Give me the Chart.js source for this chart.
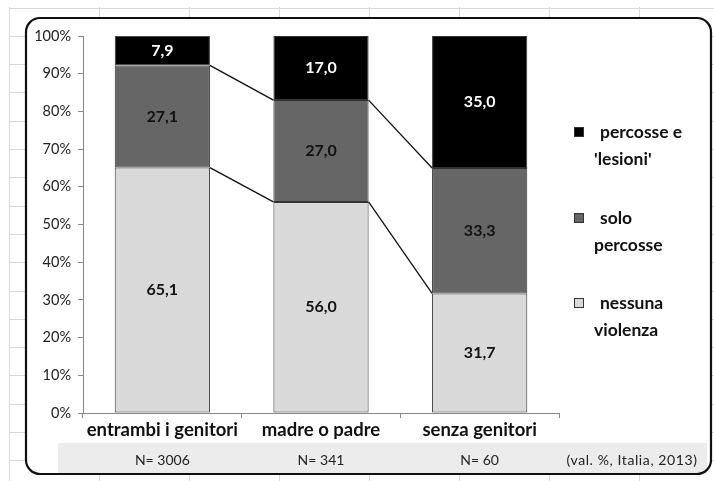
<!DOCTYPE html>
<html>
<head>
<meta charset="utf-8">
<script src="https://cdn.jsdelivr.net/npm/chart.js@4.4.1/dist/chart.umd.min.js"></script>
<style>
  html, body { margin: 0; padding: 0; background: #fff; }
  canvas { display: block; }
</style>
</head>
<body>
<canvas id="chart" width="714" height="481"></canvas>
<script>
// dati
const categories = ['entrambi i genitori', 'madre o padre', 'senza genitori'];
const nessunaViolenza = [65.1, 56.0, 31.7];
const soloPercosse = [27.1, 27.0, 33.3];
const percosseLesioni = [7.9, 17.0, 35.0];
const nLabels = ['N= 3006', 'N= 341', 'N= 60'];
const noteText = '(val. %, Italia, 2013)';
const legendNames = [
    ['nessuna', 'violenza'],
    ['solo', 'percosse'],
    ['percosse e', "'lesioni'"]
];
const yTicks = [0, 10, 20, 30, 40, 50, 60, 70, 80, 90, 100];

const FONT = 'Lato, "Open Sans", sans-serif';

function fmt(v) {
    return v.toFixed(1).replace('.', ',');
}

// sfondo: griglia del foglio, cornice arrotondata, fascia grigia con N
const backgroundPlugin = {
    id: 'background',
    beforeDraw(chart) {
        const ctx = chart.ctx;
        ctx.save();
        ctx.fillStyle = '#fff';
        ctx.fillRect(0, 0, chart.width, chart.height);
        ctx.strokeStyle = '#d9d9d9';
        ctx.lineWidth = 1;
        for (let x = 9.5; x < chart.width; x += 90) {
            ctx.beginPath(); ctx.moveTo(x, 7); ctx.lineTo(x, chart.height); ctx.stroke();
        }
        for (let y = 7.5; y < chart.height; y += 28.3) {
            ctx.beginPath(); ctx.moveTo(9, Math.round(y) + 0.5); ctx.lineTo(chart.width, Math.round(y) + 0.5); ctx.stroke();
        }
        // cornice
        ctx.beginPath();
        ctx.roundRect(26, 18, 685, 456, 14);
        ctx.fillStyle = '#fff';
        ctx.fill();
        // fascia grigia
        ctx.fillStyle = '#ececec';
        ctx.fillRect(58, 443, 649, 31);
        ctx.lineWidth = 2.2;
        ctx.strokeStyle = '#111';
        ctx.stroke();
        ctx.restore();
    },
    afterDraw(chart) {
        const ctx = chart.ctx;
        const xs = chart.scales.x;
        ctx.save();
        ctx.fillStyle = '#222';
        ctx.font = '14px ' + FONT;
        ctx.textAlign = 'center';
        ctx.textBaseline = 'middle';
        nLabels.forEach((t, i) => {
            ctx.fillText(t, xs.getPixelForValue(i), 460);
        });
        ctx.letterSpacing = '0.6px';
        ctx.fillText(noteText, 632, 460);
        ctx.letterSpacing = '0px';

        // legenda
        const ds = chart.data.datasets;
        const rows = [132, 218, 303];
        ctx.textAlign = 'left';
        ctx.font = 'bold 17.5px ' + FONT;
        for (let k = 0; k < 3; k++) {
            const d = ds[2 - k];
            const y = rows[k];
            ctx.fillStyle = d.backgroundColor;
            ctx.fillRect(574, y - 5, 10, 10);
            ctx.strokeStyle = '#333';
            ctx.lineWidth = 1;
            ctx.strokeRect(574.5, y - 4.5, 9, 9);
            ctx.fillStyle = '#111';
            const lines = legendNames[2 - k];
            ctx.fillText(lines[0], 600, y);
            ctx.fillText(lines[1], 594, y + 27);
        }
        ctx.restore();
    }
};

// linee di serie tra le barre + etichette dei valori
const seriesLinesPlugin = {
    id: 'seriesLines',
    afterDatasetsDraw(chart) {
        const ctx = chart.ctx;
        ctx.save();
        ctx.strokeStyle = '#111';
        ctx.lineWidth = 1.3;
        [0, 1].forEach(di => {
            const els = chart.getDatasetMeta(di).data;
            for (let i = 0; i < els.length - 1; i++) {
                const a = els[i], b = els[i + 1];
                ctx.beginPath();
                ctx.moveTo(a.x + a.width / 2, a.y);
                ctx.lineTo(b.x - b.width / 2, b.y);
                ctx.stroke();
            }
        });
        ctx.font = 'bold 16px ' + FONT;
        ctx.textAlign = 'center';
        ctx.textBaseline = 'middle';
        chart.data.datasets.forEach((d, di) => {
            const els = chart.getDatasetMeta(di).data;
            ctx.fillStyle = di === 2 ? '#fff' : '#111';
            els.forEach((el, i) => {
                const top = Math.max(el.y, chart.chartArea.top);
                ctx.fillText(fmt(d.data[i]), el.x, (top + el.base) / 2);
            });
        });
        ctx.restore();
    }
};

new Chart(document.getElementById('chart').getContext('2d'), {
    type: 'bar',
    data: {
        labels: categories,
        datasets: [
            { label: legendNames[0].join(' '), data: nessunaViolenza, backgroundColor: '#d9d9d9' },
            { label: legendNames[1].join(' '), data: soloPercosse, backgroundColor: '#666666' },
            { label: legendNames[2].join(' '), data: percosseLesioni, backgroundColor: '#000000' }
        ].map(d => Object.assign(d, {
            borderColor: '#333',
            borderWidth: 1,
            borderSkipped: false,
            barPercentage: 0.6,
            categoryPercentage: 1
        }))
    },
    options: {
        responsive: false,
        animation: false,
        layout: { padding: { left: 23, right: 155, top: 36, bottom: 33 } },
        plugins: {
            legend: { display: false },
            tooltip: { enabled: false }
        },
        scales: {
            x: {
                stacked: true,
                afterFit: s => { s.height = 35; },
                border: { color: '#888', width: 1 },
                grid: { display: true, drawOnChartArea: false, drawTicks: true, tickLength: 5, color: '#888', offset: true },
                ticks: { color: '#111', font: { family: FONT, size: 18.5, weight: 'bold' }, padding: 1, maxRotation: 0 }
            },
            y: {
                stacked: true,
                min: 0,
                max: 100,
                afterFit: s => { s.width = 60; },
                afterBuildTicks: s => { s.ticks = yTicks.map(v => ({ value: v })); },
                border: { color: '#888', width: 1 },
                grid: { display: true, drawOnChartArea: false, tickLength: 5, color: '#888' },
                ticks: { color: '#222', font: { family: FONT, size: 14.5 }, padding: 7, callback: v => v + '%' }
            }
        }
    },
    plugins: [backgroundPlugin, seriesLinesPlugin]
});
</script>
</body>
</html>
